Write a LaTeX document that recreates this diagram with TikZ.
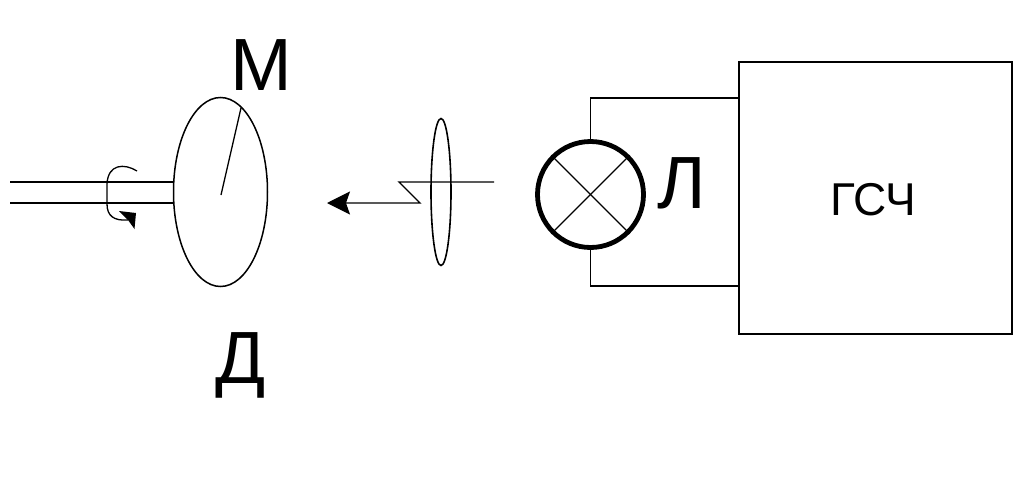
\documentclass[tikz,border=0pt]{standalone}
\usepackage{fontspec}
\setmainfont{Liberation Sans}
\usetikzlibrary{shapes.geometric,arrows.meta}
\tikzset{
  thin line/.style={line width=1.3pt,black},
  big label/.style={inner sep=0pt,font=\fontsize{74}{74}\selectfont}
}
\begin{document}
\begin{tikzpicture}[x=1pt,y=-1pt,thin line]
\useasboundingbox (0,0) rectangle (1021,490);
% generator
\node[draw,line width=1.1pt,minimum width=273pt,minimum height=272pt,inner sep=0pt] (gen) at (875.5,198) {};
\node[inner sep=0pt,font=\fontsize{46}{46}\selectfont] (gentext) at (873.5,200) {ГСЧ};
% lamp
\node[circle,draw,line width=4.8pt,minimum size=106pt,inner sep=0pt] (lamp) at (590.5,194.5) {};
\draw[thin line] (lamp.45) -- (lamp.225);
\draw[thin line] (lamp.135) -- (lamp.315);
\coordinate (wt) at (gen.west |- 0,98);
\coordinate (wb) at (gen.west |- 0,286);
\draw[thin line] (lamp.north) |- (wt);
\draw[thin line] (lamp.south) |- (wb);
\node[big label] (lampl) at (681.5,183) {Л};
% lens
\node[ellipse,draw,line width=1.6pt,minimum width=20pt,minimum height=147pt,inner sep=0pt] (lens) at (441,192) {};
% ray
\coordinate (rayin) at (494,182);
\coordinate (k1) at (399,182);
\coordinate (k2) at (420,203);
\coordinate (rayout) at (327,203);
\draw[thin line,-{Stealth[length=23pt,width=23pt,inset=4pt]}] (rayin) -- (k1) -- (k2) -- (rayout);
% disc
\node[ellipse,draw,line width=1.5pt,minimum width=94pt,minimum height=189pt,inner sep=0pt] (disc) at (220.5,192) {};
\coordinate (hub) at (221,195);
\coordinate (rim) at (241,108);
\draw[thin line] (hub) -- (rim);
% shaft
\coordinate (s1) at (10,182);
\coordinate (s2) at (10,203);
\draw[thin line] (s1) -- (disc.west |- s1);
\draw[thin line] (s2) -- (disc.west |- s2);
% rotation
\coordinate (r1) at (137,171);
\coordinate (r2) at (107,184);
\coordinate (r3) at (107,204);
\draw[thin line] (r1) .. controls (124,163) and (108,164) .. (r2) -- (r3) .. controls (107,216) and (114,221) .. (128,220);
\fill (119,211) -- (136,213) -- (134.5,229) -- (128,220) -- cycle;
% labels
\node[big label] (mlabel) at (261.5,65) {М};
\node[big label] (dlabel) at (241,365) {Д};
\end{tikzpicture}
\end{document}
